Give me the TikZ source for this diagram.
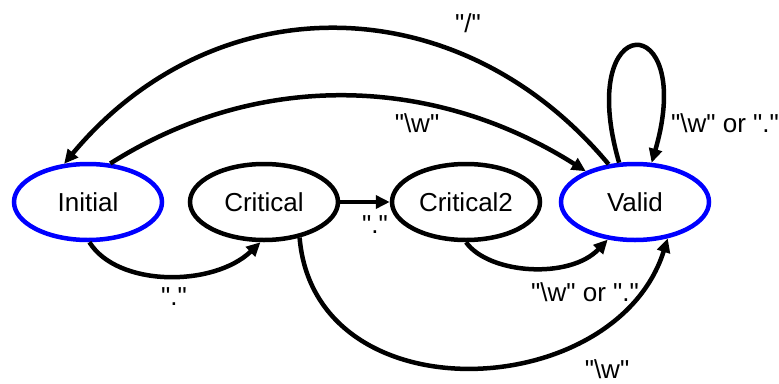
\documentclass[tikz,border=0pt]{standalone}
\usepackage{fontspec}
\setmainfont{Liberation Sans}[Ligatures=TeXOff]
\usepackage{tikz}
\usetikzlibrary{arrows.meta}
\usetikzlibrary{shapes.geometric}

\begin{document}
\begin{tikzpicture}[->,>={Triangle[length=14pt,width=13pt]},x=1pt,y=-1pt,line width=4.5pt]
	\tikzstyle{state}=[ellipse,draw,minimum width=148pt,minimum height=76pt,
		font=\fontsize{26}{30}\selectfont];
	\tikzstyle{accept}=[state,draw=blue];
	\tikzstyle{lbl}=[font=\fontsize{26}{30}\selectfont,inner sep=1pt];
	\useasboundingbox(0,0)rectangle(779,383);

	\node[accept](init) at (88,202){Initial};
	\node[state,right of=init,node distance=176pt](crit){Critical};
	\node[state,right of=crit,node distance=202pt](crit2){Critical2};
	\node[accept,right of=crit2,node distance=169pt](valid){Valid};

	\node[lbl](slash) at (468,23){"/"};
	\node[lbl](wtop) at (417,123){"\textbackslash w"};
	\node[lbl](wloop) at (725,123){"\textbackslash w" or "."};
	\node[lbl](dot1) at (174,297){"."};
	\node[lbl](dot2) at (375,225){"."};
	\node[lbl](wdot) at (585,292){"\textbackslash w" or "."};
	\node[lbl](wbot) at (607,369){"\textbackslash w"};

	\draw(init.-88) .. controls +(28,45) and +(-47,45) .. (crit.-95);
	\draw(crit)--(crit2);
	\draw(crit2.-90) .. controls +(23,32) and +(-38,40) .. (valid.-126);
	\draw(crit.-45) .. controls +(15,180) and +(-52,165) .. (valid.-48);
	\draw(init.60) .. controls +(150,-95) and +(-150,-95) .. (valid.148);
	\draw(valid.125) .. controls +(-150,-180) and +(150,-180) .. (init.122);
	\draw(valid.112) .. controls +(-45,-155) and +(45,-155) .. (valid.67);
\end{tikzpicture}
\end{document}
